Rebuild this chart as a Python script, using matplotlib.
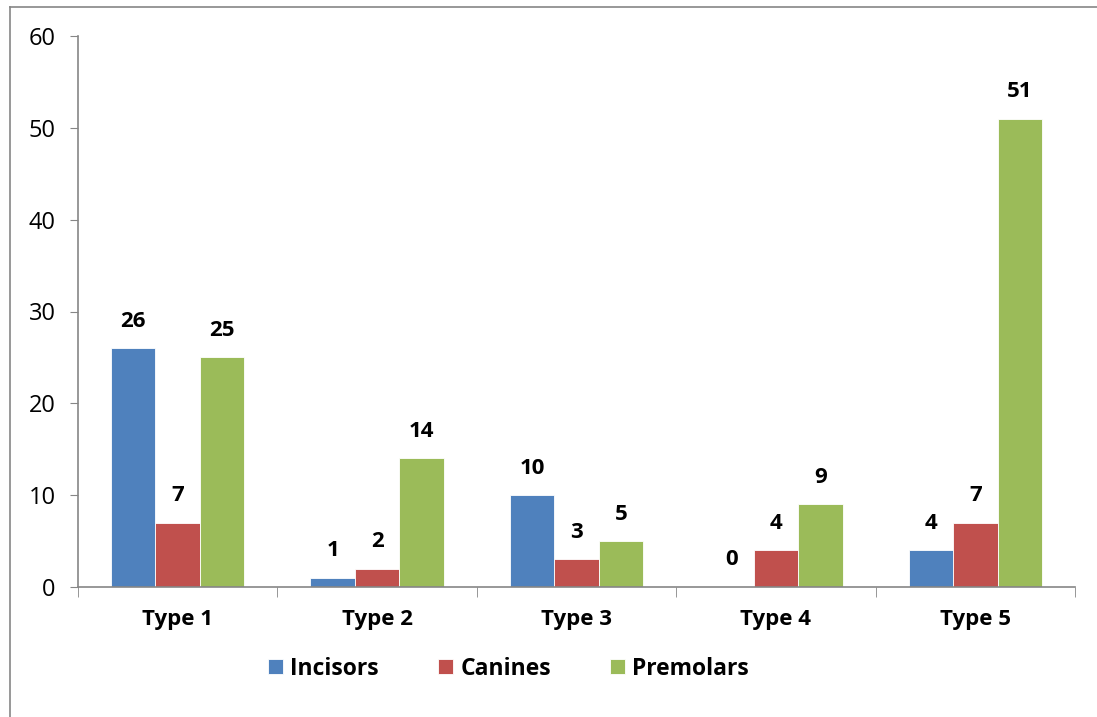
import numpy as np
import matplotlib.pyplot as plt
from matplotlib.lines import Line2D

categories = ['Type 1', 'Type 2', 'Type 3', 'Type 4', 'Type 5']
incisors = [26, 1, 10, 0, 4]
canines = [7, 2, 3, 4, 7]
premolars = [25, 14, 5, 9, 51]
series = ['Incisors', 'Canines', 'Premolars']
colors = ['#4f81bd', '#c0504d', '#9bbb59']

plt.rcParams['font.family'] = ['Open Sans', 'DejaVu Sans']

fig = plt.figure(figsize=(10.97, 7.17), dpi=100)
ax = fig.add_axes([78 / 1097, 1 - 587 / 717, (1075 - 78) / 1097, (587 - 36) / 717])

x = np.arange(len(categories))
w = 0.223
for k, (vals, name, c) in enumerate(zip([incisors, canines, premolars], series, colors)):
    pos = x + (k - 1) * w
    ax.bar(pos, vals, w, color=c, label=name, edgecolor='white', linewidth=0.6)
    for p, v in zip(pos, vals):
        ax.annotate(str(v), (p, v), xytext=(0, 19.5), textcoords='offset points',
                    ha='center', va='center', fontsize=16, fontweight='bold')

ax.set_xlim(-0.5, len(categories) - 0.5)
ax.set_ylim(0, 60)
ax.set_yticks(range(0, 61, 10))
ax.set_xticks(x)
ax.set_xticklabels(categories, fontsize=16, fontweight='bold')
ax.tick_params(axis='x', length=0, pad=16)
ax.tick_params(axis='y', labelsize=17, length=6, color='#868686', pad=10)
ax.set_xticks(np.arange(-0.5, len(categories)), minor=True)
ax.tick_params(axis='x', which='minor', length=7, color='#868686')
for s in ['top', 'right']:
    ax.spines[s].set_visible(False)
for s in ['left', 'bottom']:
    ax.spines[s].set_color('#868686')
    ax.spines[s].set_linewidth(1.2)

ax.legend(loc='center', bbox_to_anchor=(0.432, -0.148), ncol=3, frameon=False,
          prop={'size': 16.5, 'weight': 'bold'}, handlelength=0.65, handleheight=0.65,
          columnspacing=2.6, handletextpad=0.3)

# outer chart border (left and top)
fig.add_artist(Line2D([10 / 1097, 10 / 1097], [0, 1 - 7 / 717], color='#868686', lw=1.2))
fig.add_artist(Line2D([10 / 1097, 1], [1 - 7 / 717, 1 - 7 / 717], color='#868686', lw=1.2))

fig.savefig('out.png', dpi=100)
